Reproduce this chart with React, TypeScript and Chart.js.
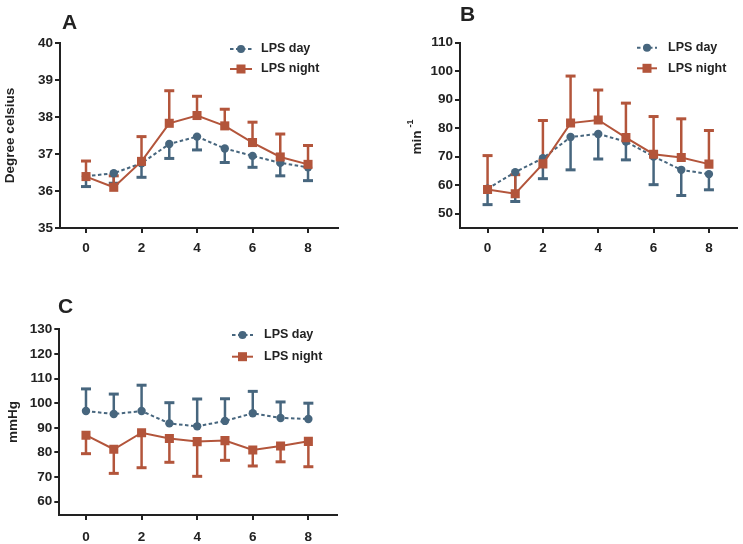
import React, { useEffect, useRef } from "react";
import { Chart, registerables } from "chart.js";
Chart.register(...registerables);

// ---------- data ----------
const hours = [0, 1, 2, 3, 4, 5, 6, 7, 8];
const xTickValues = [0, 2, 4, 6, 8];

const tempTicks = [35, 36, 37, 38, 39, 40];
const tempDayMean = [36.4, 36.48, 36.75, 37.27, 37.47, 37.15, 36.95, 36.76, 36.64];
const tempDayErr = [0.28, 0.27, 0.38, 0.39, 0.36, 0.38, 0.31, 0.35, 0.36];
const tempNightMean = [36.39, 36.1, 36.8, 37.83, 38.04, 37.76, 37.31, 36.92, 36.72];
const tempNightErr = [0.42, 0.31, 0.67, 0.88, 0.52, 0.45, 0.55, 0.62, 0.51];

const hrTicks = [50, 60, 70, 80, 90, 100, 110];
const hrDayMean = [58.8, 64.6, 69.5, 76.9, 78.0, 75.3, 70.1, 65.4, 63.9];
const hrDayErr = [5.6, 10.3, 7.2, 11.5, 8.8, 6.4, 9.9, 9.0, 5.5];
const hrNightMean = [58.5, 57.0, 67.5, 81.8, 82.9, 76.7, 70.9, 69.7, 67.4];
const hrNightErr = [11.9, 6.7, 15.2, 16.5, 10.5, 12.1, 13.2, 13.6, 11.8];

const bpTicks = [60, 70, 80, 90, 100, 110, 120, 130];
const bpDayMean = [96.8, 95.6, 96.8, 91.8, 90.6, 92.8, 95.9, 94.0, 93.6];
const bpDayErr = [9.0, 8.1, 10.5, 8.4, 11.1, 9.0, 8.9, 6.5, 6.4];
const bpNightMean = [87.0, 81.3, 88.0, 85.7, 84.4, 84.8, 81.0, 82.6, 84.5];
const bpNightErr = [7.5, 9.8, 14.2, 9.7, 14.1, 8.0, 6.5, 6.4, 10.3];

const seriesLabels = ["LPS day", "LPS night"];

// ---------- style ----------
const DAY = "#47667e";
const NIGHT = "#b3553b";
const INK = "#222222";
const FONT = "'Liberation Sans', Arial, Helvetica, sans-serif";

type Panel = {
  left: number; top: number; width: number; height: number;
  area: { l: number; t: number; r: number; b: number };
  xMin: number; xMax: number; yMin: number; yMax: number; yTicks: number[];
  dayMean: number[]; dayErr: number[]; dayDir: number;
  nightMean: number[]; nightErr: number[]; nightDir: number;
  letter: { text: string; x: number; y: number };
  yTitle: { text: string; sup?: string; x: number; y: number };
  legend: { x0: number; x1: number; tx: number; y1: number; y2: number };
  xPad: number;
};

const panels: Panel[] = [
  {
    left: 0, top: 0, width: 370, height: 270,
    area: { l: 60, t: 43, r: 338, b: 228 },
    xMin: -0.937, xMax: 9.08, yMin: 35, yMax: 40, yTicks: tempTicks,
    dayMean: tempDayMean, dayErr: tempDayErr, dayDir: -1,
    nightMean: tempNightMean, nightErr: tempNightErr, nightDir: 1,
    letter: { text: "A", x: 62, y: 28.5 },
    yTitle: { text: "Degree celsius", x: 10.5, y: 135.5 },
    legend: { x0: 230, x1: 252, tx: 261, y1: 49, y2: 69 },
    xPad: 7,
  },
  {
    left: 370, top: 0, width: 373, height: 270,
    area: { l: 90, t: 42.7, r: 368, b: 228 },
    xMin: -0.996, xMax: 9.0, yMin: 45, yMax: 110, yTicks: hrTicks,
    dayMean: hrDayMean, dayErr: hrDayErr, dayDir: -1,
    nightMean: hrNightMean, nightErr: hrNightErr, nightDir: 1,
    letter: { text: "B", x: 90, y: 21 },
    yTitle: { text: "min", sup: "-1", x: 47, y: 137 },
    legend: { x0: 267, x1: 287, tx: 298, y1: 47.7, y2: 68.3 },
    xPad: 7,
  },
  {
    left: 0, top: 272, width: 370, height: 272,
    area: { l: 59.3, t: 57.3, r: 337, b: 243 },
    xMin: -0.96, xMax: 9.03, yMin: 54.6, yMax: 130, yTicks: bpTicks,
    dayMean: bpDayMean, dayErr: bpDayErr, dayDir: 1,
    nightMean: bpNightMean, nightErr: bpNightErr, nightDir: -1,
    letter: { text: "C", x: 58, y: 41.3 },
    yTitle: { text: "mmHg", x: 13, y: 150 },
    legend: { x0: 232, x1: 253, tx: 264, y1: 63, y2: 84.7 },
    xPad: 9,
  },
];

const errorBarPlugin = {
  id: "errbars",
  beforeDatasetsDraw(chart: any) {
    const ctx = chart.ctx;
    const ys = chart.scales.y;
    chart.data.datasets.forEach((ds: any, i: number) => {
      const meta = chart.getDatasetMeta(i);
      ctx.save();
      ctx.strokeStyle = ds.borderColor;
      ctx.lineWidth = 2.5;
      ctx.setLineDash([]);
      ctx.lineCap = "butt";
      meta.data.forEach((pt: any, j: number) => {
        const v = ds.data[j].y + ds.errDir * ds.errors[j];
        const end = ys.getPixelForValue(v);
        ctx.beginPath();
        ctx.moveTo(pt.x, pt.y);
        ctx.lineTo(pt.x, end);
        ctx.stroke();
        ctx.lineWidth = 3;
        ctx.beginPath();
        ctx.moveTo(pt.x - 5, end);
        ctx.lineTo(pt.x + 5, end);
        ctx.stroke();
        ctx.lineWidth = 2.5;
      });
      ctx.restore();
    });
  },
};

function makeTextPlugin(p: Panel) {
  return {
    id: "texts",
    afterDraw(chart: any) {
      const ctx = chart.ctx;
      ctx.save();
      ctx.fillStyle = INK;
      // panel letter
      ctx.font = `bold 21px ${FONT}`;
      ctx.textAlign = "left";
      ctx.textBaseline = "alphabetic";
      ctx.fillText(p.letter.text, p.letter.x, p.letter.y);
      // y title
      ctx.save();
      ctx.translate(p.yTitle.x, p.yTitle.y);
      ctx.rotate(-Math.PI / 2);
      ctx.textBaseline = "middle";
      ctx.font = `bold 13.5px ${FONT}`;
      const w1 = ctx.measureText(p.yTitle.text).width;
      let w2 = 0;
      if (p.yTitle.sup) {
        ctx.font = `bold 9px ${FONT}`;
        w2 = ctx.measureText(p.yTitle.sup).width + 3;
      }
      const start = -(w1 + w2) / 2;
      ctx.font = `bold 13.5px ${FONT}`;
      ctx.textAlign = "left";
      ctx.fillText(p.yTitle.text, start, 0);
      if (p.yTitle.sup) {
        ctx.font = `bold 9px ${FONT}`;
        ctx.fillText(p.yTitle.sup, start + w1 + 3, -6);
      }
      ctx.restore();
      // legend
      const L = p.legend;
      const cx = (L.x0 + L.x1) / 2;
      ctx.lineWidth = 2;
      ctx.strokeStyle = DAY;
      ctx.setLineDash([3.5, 2.5]);
      ctx.beginPath();
      ctx.moveTo(L.x0, L.y1);
      ctx.lineTo(L.x1, L.y1);
      ctx.stroke();
      ctx.setLineDash([]);
      ctx.fillStyle = DAY;
      ctx.beginPath();
      ctx.arc(cx, L.y1, 4, 0, Math.PI * 2);
      ctx.fill();
      ctx.strokeStyle = NIGHT;
      ctx.beginPath();
      ctx.moveTo(L.x0, L.y2);
      ctx.lineTo(L.x1, L.y2);
      ctx.stroke();
      ctx.fillStyle = NIGHT;
      ctx.fillRect(cx - 4.5, L.y2 - 4.5, 9, 9);
      ctx.fillStyle = INK;
      ctx.font = `bold 12.5px ${FONT}`;
      ctx.textBaseline = "middle";
      ctx.textAlign = "left";
      ctx.fillText(seriesLabels[0], L.tx, L.y1);
      ctx.fillText(seriesLabels[1], L.tx, L.y2);
      ctx.restore();
    },
  };
}

function PanelChart({ p }: { p: Panel }) {
  const ref = useRef<HTMLCanvasElement | null>(null);
  useEffect(() => {
    if (!ref.current) return;
    const tickFont = { family: FONT, size: 13.5, weight: "bold" as const };
    const chart = new Chart(ref.current, {
      type: "line",
      data: {
        datasets: [
          {
            label: seriesLabels[0],
            data: hours.map((h, i) => ({ x: h, y: p.dayMean[i] })),
            borderColor: DAY,
            backgroundColor: DAY,
            borderWidth: 2,
            borderDash: [3.5, 2.5],
            pointStyle: "circle",
            pointRadius: 4.2,
            pointBorderWidth: 0,
            tension: 0,
            order: 2,
            errors: p.dayErr,
            errDir: p.dayDir,
          } as any,
          {
            label: seriesLabels[1],
            data: hours.map((h, i) => ({ x: h, y: p.nightMean[i] })),
            borderColor: NIGHT,
            backgroundColor: NIGHT,
            borderWidth: 2,
            pointStyle: "rect",
            pointRadius: 6.4,
            pointBorderWidth: 0,
            tension: 0,
            order: 1,
            errors: p.nightErr,
            errDir: p.nightDir,
          } as any,
        ],
      },
      options: {
        animation: false,
        responsive: false,
        maintainAspectRatio: false,
        devicePixelRatio: 1,
        layout: { padding: { left: 0, top: p.area.t, right: p.width - p.area.r, bottom: 0 } },
        plugins: {
          legend: { display: false },
          tooltip: { enabled: false },
          title: { display: false },
        },
        scales: {
          x: {
            type: "linear",
            min: p.xMin,
            max: p.xMax,
            afterBuildTicks: (s: any) => {
              s.ticks = xTickValues.map((v) => ({ value: v }));
            },
            afterFit: (s: any) => {
              s.height = p.height - p.area.b;
            },
            grid: { display: true, drawOnChartArea: false, drawTicks: true, tickLength: 5, color: INK, lineWidth: 2 },
            border: { display: true, color: INK, width: 2 },
            ticks: { font: tickFont, color: INK, padding: p.xPad, maxRotation: 0, autoSkip: false },
          },
          y: {
            type: "linear",
            min: p.yMin,
            max: p.yMax,
            afterBuildTicks: (s: any) => {
              s.ticks = p.yTicks.map((v) => ({ value: v }));
            },
            afterFit: (s: any) => {
              s.width = p.area.l;
            },
            grid: { display: true, drawOnChartArea: false, drawTicks: true, tickLength: 5, color: INK, lineWidth: 2 },
            border: { display: true, color: INK, width: 2 },
            ticks: { font: tickFont, color: INK, padding: 2, autoSkip: false },
          },
        },
      } as any,
      plugins: [errorBarPlugin, makeTextPlugin(p)],
    });
    return () => chart.destroy();
  }, [p]);
  return (
    <canvas
      ref={ref}
      width={p.width}
      height={p.height}
      style={{ position: "absolute", left: p.left, top: p.top, width: p.width, height: p.height }}
    />
  );
}

export default function App() {
  return (
    <div style={{ position: "fixed", left: 0, top: 0, width: 743, height: 544, background: "#ffffff" }}>
      {panels.map((p, i) => (
        <PanelChart key={i} p={p} />
      ))}
    </div>
  );
}
